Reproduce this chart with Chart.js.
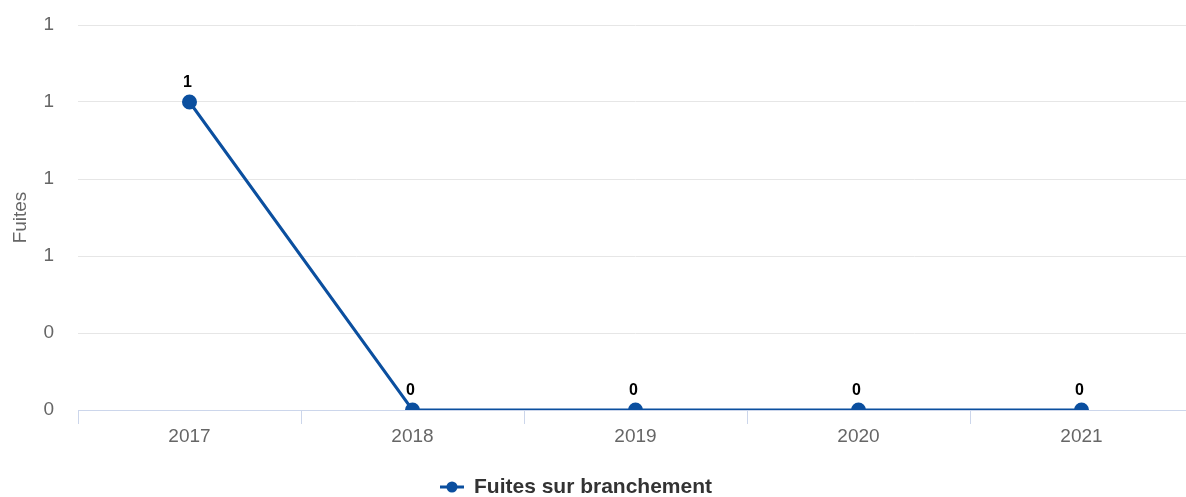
<!DOCTYPE html>
<html>
<head>
<meta charset="utf-8">
<script src="https://cdn.jsdelivr.net/npm/chart.js@4.4.0/dist/chart.umd.min.js"></script>
<style>
  html, body { margin: 0; padding: 0; background: #fff; overflow: hidden; }
  #wrap { width: 1202px; height: 497px; position: relative; }
</style>
</head>
<body>
<div id="wrap"><canvas id="chart"></canvas></div>
<script>
const years = ['2017', '2018', '2019', '2020', '2021'];
const fuites = [1, 0, 0, 0, 0];
const seriesName = 'Fuites sur branchement';
const axisTitle = 'Fuites';

const lineColor = '#0b4f9f';
const fontFamily = '"Liberation Sans", Arial, Helvetica, sans-serif';

// value labels above each point
const pointLabels = {
  id: 'pointLabels',
  afterDatasetsDraw(chart) {
    const ctx = chart.ctx;
    const meta = chart.getDatasetMeta(0);
    ctx.save();
    ctx.font = 'bold 16px ' + fontFamily;
    ctx.fillStyle = '#000';
    ctx.textAlign = 'center';
    ctx.textBaseline = 'middle';
    meta.data.forEach((pt, i) => {
      ctx.fillText(String(fuites[i]), pt.x - 2, pt.y - 19);
    });
    ctx.restore();
  }
};

// legend drawn like the original: line + dot, bold label
const customLegend = {
  id: 'customLegend',
  afterDraw(chart) {
    const ctx = chart.ctx;
    ctx.save();
    ctx.font = 'bold 21px ' + fontFamily;
    const tw = ctx.measureText(seriesName).width;
    const total = 34 + tw;
    const x0 = 576 - total / 2;
    const y = 487;
    ctx.strokeStyle = lineColor;
    ctx.lineWidth = 3;
    ctx.beginPath();
    ctx.moveTo(x0, y);
    ctx.lineTo(x0 + 24, y);
    ctx.stroke();
    ctx.fillStyle = lineColor;
    ctx.beginPath();
    ctx.arc(x0 + 12, y, 5.5, 0, Math.PI * 2);
    ctx.fill();
    ctx.fillStyle = '#333';
    ctx.textBaseline = 'middle';
    ctx.fillText(seriesName, x0 + 34, y);
    ctx.restore();
  }
};

new Chart(document.getElementById('chart'), {
  type: 'line',
  data: {
    labels: years,
    datasets: [{
      label: seriesName,
      data: fuites,
      borderColor: lineColor,
      backgroundColor: lineColor,
      borderWidth: 3,
      pointRadius: 6,
      pointHoverRadius: 6,
      tension: 0
    }]
  },
  options: {
    responsive: true,
    maintainAspectRatio: false,
    animation: false,
    layout: { padding: { top: 25, right: 0, left: 0, bottom: 0 } },
    plugins: {
      legend: { display: false },
      tooltip: { enabled: false }
    },
    scales: {
      x: {
        offset: true,
        grid: {
          offset: true,
          drawOnChartArea: false,
          drawTicks: true,
          tickLength: 14,
          color: '#ccd6eb'
        },
        border: { color: '#ccd6eb', width: 1 },
        ticks: {
          color: '#666',
          padding: 1,
          font: { family: fontFamily, size: 19 }
        },
        afterFit(scale) { scale.height = 87; }
      },
      y: {
        min: 0,
        max: 1.25,
        grid: {
          color: '#e6e6e6',
          drawTicks: true,
          tickLength: 24,
          tickColor: 'rgba(0,0,0,0)'
        },
        border: { display: false },
        ticks: {
          stepSize: 0.25,
          color: '#666',
          padding: 0,
          font: { family: fontFamily, size: 19 },
          callback: (v) => String(Math.round(v))
        },
        title: {
          display: true,
          text: axisTitle,
          color: '#666',
          padding: { top: 9, bottom: 0 },
          font: { family: fontFamily, size: 19 }
        },
        afterFit(scale) { scale.width = 78; }
      }
    }
  },
  plugins: [pointLabels, customLegend]
});
</script>
</body>
</html>
